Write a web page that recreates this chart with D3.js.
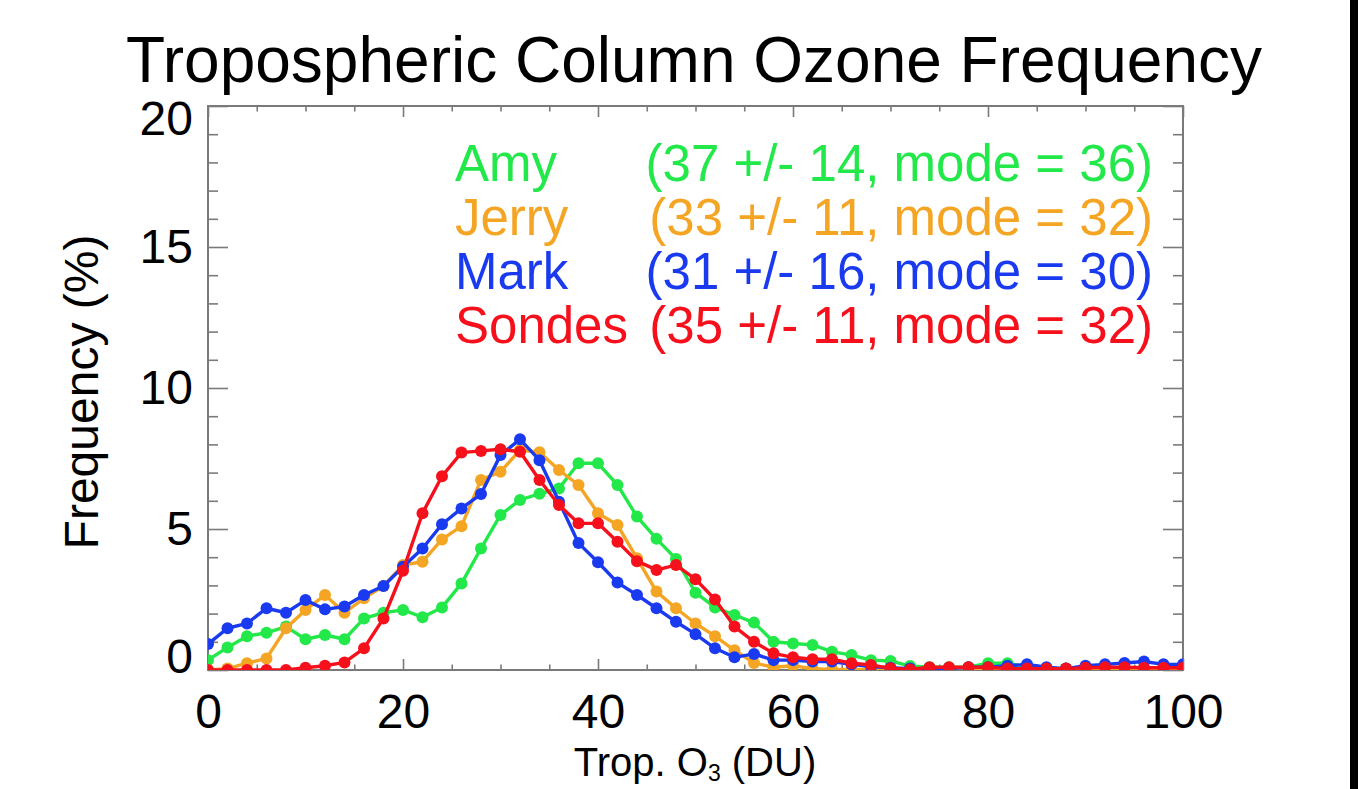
<!DOCTYPE html>
<html><head><meta charset="utf-8">
<script src="https://cdn.jsdelivr.net/npm/d3@7"></script>
<style>body{margin:0;background:#fff;overflow:hidden}svg{display:block}</style>
</head><body><svg id="c" width="1362" height="789"></svg>
<script>
// ---- data ----
const binCenters = [0,2,4,6,8,10,12,14,16,18,20,22,24,26,28,30,32,34,36,38,40,42,44,46,48,50,
  52,54,56,58,60,62,64,66,68,70,72,74,76,78,80,82,84,86,88,90,92,94,96,98,100];
const amyFreq = [0.35,0.8,1.2,1.32,1.54,1.09,1.24,1.09,1.83,2.03,2.13,1.87,2.22,3.07,4.31,5.5,6.03,6.25,6.44,7.33,7.33,6.56,5.44,4.65,3.94,2.74,
  2.22,1.95,1.68,1.0,0.94,0.89,0.65,0.53,0.35,0.32,0.14,0.1,0.1,0.1,0.24,0.24,0.1,0.05,0.05,0.05,0.05,0.05,0.05,0.05,0.05];
const jerryFreq = [0.0,0.05,0.24,0.41,1.48,2.13,2.66,2.03,2.54,2.98,3.72,3.84,4.63,5.1,6.74,7.03,7.8,7.72,7.09,6.56,5.56,5.14,3.96,2.78,2.19,1.65,
  1.2,0.7,0.25,0.1,0.15,0.05,0.02,0.02,0.02,0.02,0.02,0.02,0.02,0.02,0.02,0.02,0.02,0.02,0.02,0.02,0.02,0.02,0.02,0.02,0.02];
const markFreq = [0.92,1.48,1.65,2.19,2.03,2.48,2.15,2.25,2.66,2.98,3.66,4.31,5.17,5.73,6.24,7.62,8.18,7.44,5.97,4.5,3.82,3.1,2.66,2.19,1.71,1.27,
  0.77,0.45,0.57,0.35,0.35,0.3,0.3,0.2,0.12,0.08,0.05,0.05,0.05,0.1,0.1,0.15,0.2,0.1,0.05,0.15,0.2,0.25,0.3,0.2,0.2];
const sondesFreq = [0.0,0.0,0.0,0.0,0.0,0.08,0.15,0.27,0.77,1.83,3.52,5.56,6.87,7.71,7.77,7.83,7.74,6.74,5.85,5.2,5.2,4.55,3.86,3.55,3.72,3.22,
  2.5,1.54,1.0,0.59,0.45,0.38,0.38,0.24,0.18,0.06,0.02,0.1,0.1,0.1,0.1,0.05,0.05,0.05,0.05,0.08,0.1,0.1,0.08,0.08,0.08];
const seriesNames = ["Amy","Jerry","Mark","Sondes"];
const seriesStats = ["(37 +/- 14, mode = 36)","(33 +/- 11, mode = 32)","(31 +/- 16, mode = 30)","(35 +/- 11, mode = 32)"];
const seriesColors = ["#22e84a","#f5a524","#1a3af0","#f5101c"];
const xMajorTicks = [0,20,40,60,80,100];
const xMinorTicks = [5,10,15,25,30,35,45,50,55,65,70,75,85,90,95];
const yMajorTicks = [0,5,10,15,20];
const yMinorTicks = [1,2,3,4,6,7,8,9,11,12,13,14,16,17,18,19];

// ---- chart ----
const FONT = "'Liberation Sans', Arial, Helvetica, sans-serif";
const svg = d3.select("#c").style("font-family", FONT);
const L = 208, R = 1183, T = 106, B = 670;
const x = d3.scaleLinear().domain([0,100]).range([L,R]);
const y = d3.scaleLinear().domain([0,20]).range([B,T]);
const axisColor = "#7a7a7a";

svg.append("rect").attr("width",1362).attr("height",789).attr("fill","#fff");

function styleAxis(g){
  g.select(".domain").remove();
  g.selectAll(".tick line").attr("stroke",axisColor).attr("stroke-width",1.6);
  g.selectAll(".tick text").attr("fill","#000").style("font-size","48px").style("font-family",FONT);
}

// bottom axis
svg.append("g").attr("transform",`translate(0,${B})`)
  .call(d3.axisBottom(x).tickValues(xMajorTicks).tickSize(-11).tickPadding(24).tickFormat(d3.format("d")))
  .call(styleAxis);
svg.append("g").attr("transform",`translate(0,${B})`)
  .call(d3.axisBottom(x).tickValues(xMinorTicks).tickSize(-5.5).tickFormat(""))
  .call(styleAxis);
// top axis
svg.append("g").attr("transform",`translate(0,${T})`)
  .call(d3.axisTop(x).tickValues(xMajorTicks).tickSize(-11).tickFormat(""))
  .call(styleAxis);
svg.append("g").attr("transform",`translate(0,${T})`)
  .call(d3.axisTop(x).tickValues(xMinorTicks).tickSize(-5.5).tickFormat(""))
  .call(styleAxis);
// left axis
const leftAx = svg.append("g").attr("transform",`translate(${L},0)`)
  .call(d3.axisLeft(y).tickValues(yMajorTicks).tickSize(-20).tickPadding(15).tickFormat(d3.format("d")))
  .call(styleAxis);
leftAx.selectAll(".tick text").attr("dy", d => d === 20 ? "0.6em" : (d === 0 ? "0.05em" : "0.32em"));
svg.append("g").attr("transform",`translate(${L},0)`)
  .call(d3.axisLeft(y).tickValues(yMinorTicks).tickSize(-10).tickFormat(""))
  .call(styleAxis);
// right axis
svg.append("g").attr("transform",`translate(${R},0)`)
  .call(d3.axisRight(y).tickValues(yMajorTicks).tickSize(-20).tickFormat(""))
  .call(styleAxis);
svg.append("g").attr("transform",`translate(${R},0)`)
  .call(d3.axisRight(y).tickValues(yMinorTicks).tickSize(-10).tickFormat(""))
  .call(styleAxis);

// frame
svg.append("rect").attr("x",L).attr("y",T).attr("width",R-L).attr("height",B-T)
  .attr("fill","none").attr("stroke",axisColor).attr("stroke-width",2);

// clip
svg.append("clipPath").attr("id","plotclip").append("rect")
  .attr("x",L).attr("y",T).attr("width",R-L).attr("height",B-T);

const allSeries = [amyFreq, jerryFreq, markFreq, sondesFreq];
const line = d3.line().x((d,i)=>x(binCenters[i])).y(d=>y(d));
const plotG = svg.append("g").attr("clip-path","url(#plotclip)");
allSeries.forEach((vals, si) => {
  const g = plotG.append("g");
  g.append("path").datum(vals).attr("d", line).attr("fill","none")
    .attr("stroke", seriesColors[si]).attr("stroke-width",3.4).attr("stroke-linejoin","round");
  g.selectAll("circle").data(vals).join("circle")
    .attr("cx",(d,i)=>x(binCenters[i])).attr("cy",d=>y(d)).attr("r",6)
    .attr("fill",seriesColors[si]);
});

// legend
const legendBase = [181, 235, 289, 343];
seriesNames.forEach((name, i) => {
  svg.append("text").attr("x",455).attr("y",legendBase[i]).attr("fill",seriesColors[i])
    .style("font-size","51px").text(name);
  svg.append("text").attr("x",1153).attr("y",legendBase[i]).attr("fill",seriesColors[i])
    .attr("text-anchor","end").style("font-size","51px").text(seriesStats[i]);
});

// title
svg.append("text").attr("x",694).attr("y",82).attr("text-anchor","middle")
  .style("font-size","64px").attr("fill","#000").text("Tropospheric Column Ozone Frequency");

// y label
svg.append("text").attr("transform","translate(98,392) rotate(-90)").attr("text-anchor","middle")
  .style("font-size","48px").attr("fill","#000").text("Frequency (%)");

// x label
const xl = svg.append("text").attr("x",695).attr("y",776).attr("text-anchor","middle")
  .style("font-size","40px").attr("fill","#000");
xl.append("tspan").text("Trop. O");
xl.append("tspan").attr("dy",5).style("font-size","23px").text("3");
xl.append("tspan").attr("dy",-5).text(" (DU)");

// right black bar
svg.append("rect").attr("x",1350).attr("y",0).attr("width",8).attr("height",789).attr("fill","#000");
</script>
</body></html>
